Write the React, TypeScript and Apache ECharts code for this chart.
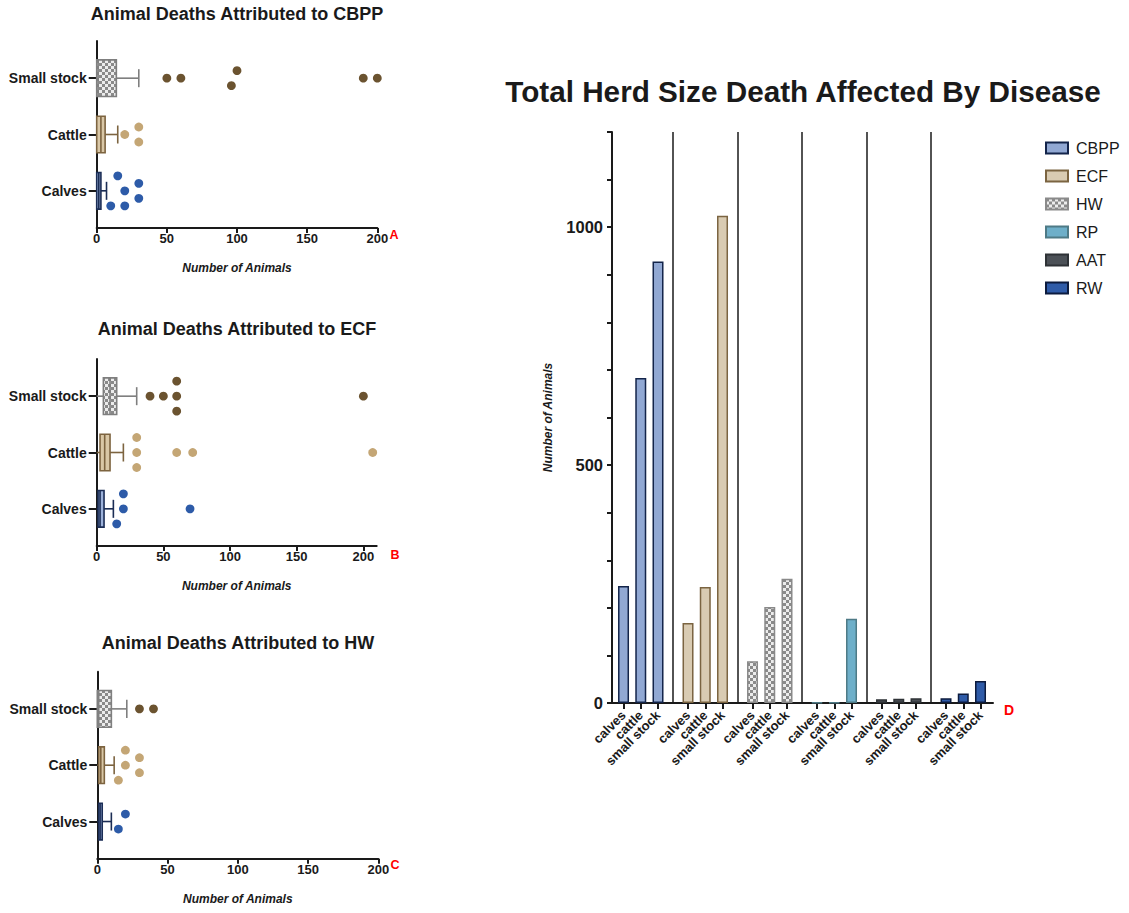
import React, { useEffect, useRef } from 'react';
import * as echarts from 'echarts';

// ---------- data ----------
const GROUPS = ['Calves', 'Cattle', 'Small stock'];

// box stats per group [min, Q1, median, Q3, max] (Calves, Cattle, Small stock)
const CBPP_BOX = [[0, 0, 1.5, 3, 7], [0, 0, 3, 6, 15], [0, 0, 1, 14, 30]];
const ECF_BOX = [[0, 1, 2.5, 5.5, 12.5], [0, 2.5, 6, 10, 20], [0, 5, 10, 15, 30]];
const HW_BOX = [[0, 1, 2, 3.5, 10], [0, 1, 2.5, 5, 12], [0, 0, 1, 10, 21]];

// outlying points per group and their row within the dot stack
const CBPP_CALVES = [15, 30, 20, 30, 10, 20];
const CBPP_CALVES_ROW = [2, 1, 0, -1, -2, -2];
const CBPP_CATTLE = [20, 30, 30];
const CBPP_CATTLE_ROW = [0, 1, -1];
const CBPP_SMALL = [50, 60, 100, 96, 190, 200];
const CBPP_SMALL_ROW = [0, 0, 1, -1, 0, 0];

const ECF_CALVES = [20, 20, 15, 70];
const ECF_CALVES_ROW = [2, 0, -2, 0];
const ECF_CATTLE = [30, 30, 30, 60, 72, 207];
const ECF_CATTLE_ROW = [2, 0, -2, 0, 0, 0];
const ECF_SMALL = [40, 50, 60, 60, 60, 200];
const ECF_SMALL_ROW = [0, 0, 2, 0, -2, 0];

const HW_CALVES = [20, 15];
const HW_CALVES_ROW = [1, -1];
const HW_CATTLE = [20, 20, 30, 30, 15];
const HW_CATTLE_ROW = [2, 0, 1, -1, -2];
const HW_SMALL = [30, 40];
const HW_SMALL_ROW = [0, 0];

const X_TICKS = [0, 50, 100, 150, 200];

// panel D
const DISEASES = ['CBPP', 'ECF', 'HW', 'RP', 'AAT', 'RW'];
const BAR_LABELS = ['calves', 'cattle', 'small stock'];
const CBPP_TOTAL = [246, 683, 928];
const ECF_TOTAL = [168, 244, 1024];
const HW_TOTAL = [88, 202, 261];
const RP_TOTAL = [1, 1, 177];
const AAT_TOTAL = [8, 9, 10];
const RW_TOTAL = [10, 20, 46];
const TOTALS = [CBPP_TOTAL, ECF_TOTAL, HW_TOTAL, RP_TOTAL, AAT_TOTAL, RW_TOTAL];

// ---------- styles ----------
const FONT = 'Liberation Sans, Arial, Helvetica, sans-serif';
const INK = '#1a1a1a';
const BAR_OFFSETS = [0.2326, 0.5, 0.7674];
const D_MIN = 0.054;
const D_MAX = 5.961;
const ROW_PX = 7.5;
const BOX_H = 0.65;
const CAP_H = 0.32;

function checker(size: number, a: string, b: string) {
  const c = document.createElement('canvas');
  c.width = size * 2;
  c.height = size * 2;
  const ctx = c.getContext('2d')!;
  ctx.fillStyle = b;
  ctx.fillRect(0, 0, size * 2, size * 2);
  ctx.fillStyle = a;
  ctx.fillRect(0, 0, size, size);
  ctx.fillRect(size, size, size, size);
  return c;
}

const BOX_STYLES = [
  { fill: '#9db2da', stroke: '#1b2d55' },
  { fill: '#d9c7a6', stroke: '#7d6440' },
  { fill: 'CHECK', stroke: '#7f7f7f' },
];
const DOT_COLORS = ['#2d5ba8', '#c4a675', '#6b5330'];

const BAR_STYLES = [
  { color: '#91a8d3', borderColor: '#13244a' },
  { color: '#d9cbb2', borderColor: '#7b6441' },
  { color: 'CHECK', borderColor: '#8a8a8a' },
  { color: '#6eafc9', borderColor: '#4e7a86' },
  { color: '#4c5157', borderColor: '#2e3236' },
  { color: '#2f5ba8', borderColor: '#0c1b3e' },
];

function buildOption() {
  const pattern = { image: checker(3, '#8a8a8a', '#ececec'), repeat: 'repeat' };
  const fillOf = (f: string) => (f === 'CHECK' ? pattern : f);

  const grids = [
    { left: 96.7, top: 41, width: 280.6, height: 187 },
    { left: 96.7, top: 359, width: 280, height: 187 },
    { left: 97.3, top: 671.7, width: 281, height: 187 },
    { left: 612, top: 132, width: 381, height: 571 },
  ].map((g) => ({ ...g, containLabel: false, outerBoundsMode: 'none' }));

  const leftX = (gi: number, max: number) => ({
    type: 'value',
    gridIndex: gi,
    min: 0,
    max,
    axisLine: { show: true, onZero: false, lineStyle: { color: INK, width: 2 } },
    axisTick: { show: true, length: 5, customValues: X_TICKS, lineStyle: { color: INK, width: 2 } },
    axisLabel: {
      customValues: X_TICKS,
      fontSize: 13,
      fontWeight: 'bold',
      color: INK,
      fontFamily: FONT,
      margin: 4,
      hideOverlap: false,
      showMinLabel: true,
      showMaxLabel: true,
    },
    splitLine: { show: false },
    name: 'Number of Animals',
    nameLocation: 'middle',
    nameGap: 34,
    nameTextStyle: { fontSize: 12, fontWeight: 'bold', fontStyle: 'italic', color: INK, fontFamily: FONT },
  });

  const leftY = (gi: number) => ({
    type: 'value',
    gridIndex: gi,
    min: 0.34,
    max: 3.66,
    axisLine: { show: true, onZero: false, lineStyle: { color: INK, width: 2 } },
    axisTick: { show: true, length: 8, customValues: [1, 2, 3], lineStyle: { color: INK, width: 2 } },
    axisLabel: {
      customValues: [1, 2, 3],
      formatter: (v: number) => GROUPS[Math.round(v) - 1] || '',
      fontSize: 14,
      fontWeight: 'bold',
      color: INK,
      fontFamily: FONT,
      margin: 10,
      showMinLabel: true,
      showMaxLabel: true,
    },
    splitLine: { show: false },
  });

  const barXs: number[] = [];
  DISEASES.forEach((_, g) => BAR_OFFSETS.forEach((o) => barXs.push(g + o)));
  // empty labels at both axis ends keep the real first/last labels from being dropped
  const labelXs = [D_MIN, ...barXs, D_MAX];

  const xAxis = [
    leftX(0, 200),
    leftX(1, 210),
    leftX(2, 200),
    {
      type: 'value',
      gridIndex: 3,
      min: D_MIN,
      max: D_MAX,
      axisLine: { show: true, onZero: false, lineStyle: { color: INK, width: 2 } },
      axisTick: { show: true, length: 6, customValues: barXs, lineStyle: { color: INK, width: 2 } },
      axisLabel: {
        customValues: labelXs,
        formatter: (v: number) => {
          if (v <= D_MIN + 1e-6 || v >= D_MAX - 1e-6) return '';
          let best = 0;
          barXs.forEach((x, k) => {
            if (Math.abs(x - v) < Math.abs(barXs[best] - v)) best = k;
          });
          return BAR_LABELS[best % 3];
        },
        rotate: 45,
        fontSize: 13,
        fontWeight: 'bold',
        color: INK,
        fontFamily: FONT,
        margin: 10,
        hideOverlap: false,
      },
      splitLine: { show: false },
    },
  ];

  const yAxis = [
    leftY(0),
    leftY(1),
    leftY(2),
    {
      type: 'value',
      gridIndex: 3,
      min: 0,
      max: 1200,
      interval: 100,
      axisLine: { show: true, onZero: false, lineStyle: { color: INK, width: 2 } },
      axisTick: { show: true, length: 5, lineStyle: { color: INK, width: 2 } },
      axisLabel: {
        formatter: (v: number) => (v % 500 === 0 ? String(v) : ''),
        fontSize: 16.5,
        fontWeight: 'bold',
        color: INK,
        fontFamily: FONT,
        margin: 9,
        showMinLabel: true,
      },
      splitLine: { show: false },
      name: 'Number of Animals',
      nameLocation: 'middle',
      nameGap: 58,
      nameTextStyle: { fontSize: 12, fontWeight: 'bold', fontStyle: 'italic', color: INK, fontFamily: FONT },
    },
  ];

  const boxSeries = (gi: number, boxes: number[][]) => ({
    type: 'custom',
    coordinateSystem: 'cartesian2d',
    xAxisIndex: gi,
    yAxisIndex: gi,
    silent: true,
    encode: { x: [1, 2, 3, 4, 5], y: 0 },
    data: boxes.map((b, i) => [i + 1, ...b]),
    renderItem: (params: any, api: any) => {
      const y = api.value(0);
      const mn = api.value(1), q1 = api.value(2), md = api.value(3), q3 = api.value(4), mx = api.value(5);
      const s = BOX_STYLES[params.dataIndex];
      const cy = api.coord([q1, y])[1];
      const x1 = api.coord([q1, y])[0];
      const x3 = api.coord([q3, y])[0];
      const xm = api.coord([md, y])[0];
      const xmax = api.coord([mx, y])[0];
      const xmin = api.coord([mn, y])[0];
      const hh = api.size([0, BOX_H])[1] / 2;
      const ch = api.size([0, CAP_H])[1] / 2;
      const ls = { stroke: s.stroke, lineWidth: 1.6 };
      const children: any[] = [
        { type: 'line', shape: { x1: x3, y1: cy, x2: xmax, y2: cy }, style: ls },
        { type: 'line', shape: { x1: xmax, y1: cy - ch, x2: xmax, y2: cy + ch }, style: ls },
      ];
      if (q1 > mn) {
        children.push({ type: 'line', shape: { x1: xmin, y1: cy, x2: x1, y2: cy }, style: ls });
      }
      children.push({
        type: 'rect',
        shape: { x: x1, y: cy - hh, width: x3 - x1, height: 2 * hh },
        style: { fill: fillOf(s.fill), stroke: s.stroke, lineWidth: 1.6 },
      });
      children.push({ type: 'line', shape: { x1: xm, y1: cy - hh, x2: xm, y2: cy + hh }, style: ls });
      return { type: 'group', children };
    },
  });

  const dotSeries = (gi: number, vals: number[][], rows: number[][]) => ({
    type: 'scatter',
    xAxisIndex: gi,
    yAxisIndex: gi,
    silent: true,
    symbol: 'circle',
    symbolSize: 8.8,
    itemStyle: { opacity: 1 },
    data: vals.flatMap((vs, i) =>
      vs.map((v, k) => ({
        value: [v, i + 1],
        symbolOffset: [0, -rows[i][k] * ROW_PX],
        itemStyle: { color: DOT_COLORS[i], opacity: 1 },
      }))
    ),
  });

  const barSeries = TOTALS.map((vals, g) => ({
    type: 'bar',
    name: DISEASES[g],
    xAxisIndex: 3,
    yAxisIndex: 3,
    barWidth: 11,
    barGap: '-100%',
    silent: true,
    itemStyle: {
      color: fillOf(BAR_STYLES[g].color),
      borderColor: BAR_STYLES[g].borderColor,
      borderWidth: 1.5,
    },
    data: vals.map((v, i) => [g + BAR_OFFSETS[i], v]),
    ...(g === 0
      ? {
          markLine: {
            silent: true,
            symbol: ['none', 'none'],
            label: { show: false },
            lineStyle: { color: INK, width: 1.5, type: 'solid' },
            data: [1, 2, 3, 4, 5].map((x) => ({ xAxis: x })),
          },
        }
      : {}),
  }));

  const txt = (text: string, x: number, y: number, size: number, color = INK, weight = 'bold') => ({
    type: 'text',
    x,
    y,
    silent: true,
    style: {
      text,
      fill: color,
      font: `${weight} ${size}px ${FONT}`,
      textAlign: 'center',
      textVerticalAlign: 'middle',
    },
  });

  return {
    animation: false,
    backgroundColor: '#ffffff',
    grid: grids,
    xAxis,
    yAxis,
    legend: {
      data: DISEASES,
      orient: 'vertical',
      left: 1040,
      top: 135,
      icon: 'rect',
      itemWidth: 22,
      itemHeight: 11,
      itemGap: 12,
      selectedMode: false,
      textStyle: { fontSize: 16, color: INK, fontFamily: FONT, lineHeight: 16, padding: [0, 0, 0, 3] },
    },
    graphic: [
      txt('Animal Deaths Attributed to CBPP', 237, 14, 18),
      txt('Animal Deaths Attributed to ECF', 237, 329, 18),
      txt('Animal Deaths Attributed to HW', 238, 643, 18),
      txt('Total Herd Size Death Affected By Disease', 803, 91, 29.7),
      txt('A', 394, 235, 12.5, '#ff0000'),
      txt('B', 395, 555, 12.5, '#ff0000'),
      txt('C', 395, 865, 12.5, '#ff0000'),
      txt('D', 1009, 710, 14, '#ff0000'),
    ],
    series: [
      boxSeries(0, CBPP_BOX),
      dotSeries(0, [CBPP_CALVES, CBPP_CATTLE, CBPP_SMALL], [CBPP_CALVES_ROW, CBPP_CATTLE_ROW, CBPP_SMALL_ROW]),
      boxSeries(1, ECF_BOX),
      dotSeries(1, [ECF_CALVES, ECF_CATTLE, ECF_SMALL], [ECF_CALVES_ROW, ECF_CATTLE_ROW, ECF_SMALL_ROW]),
      boxSeries(2, HW_BOX),
      dotSeries(2, [HW_CALVES, HW_CATTLE, HW_SMALL], [HW_CALVES_ROW, HW_CATTLE_ROW, HW_SMALL_ROW]),
      ...barSeries,
    ],
  };
}

export default function App() {
  const ref = useRef<HTMLDivElement>(null);
  useEffect(() => {
    const chart = echarts.init(ref.current!, null, { renderer: 'svg' });
    chart.setOption(buildOption() as any);
    return () => chart.dispose();
  }, []);
  return (
    <div
      ref={ref}
      style={{ position: 'absolute', left: 0, top: 0, width: 1129, height: 913, background: '#fff' }}
    />
  );
}
